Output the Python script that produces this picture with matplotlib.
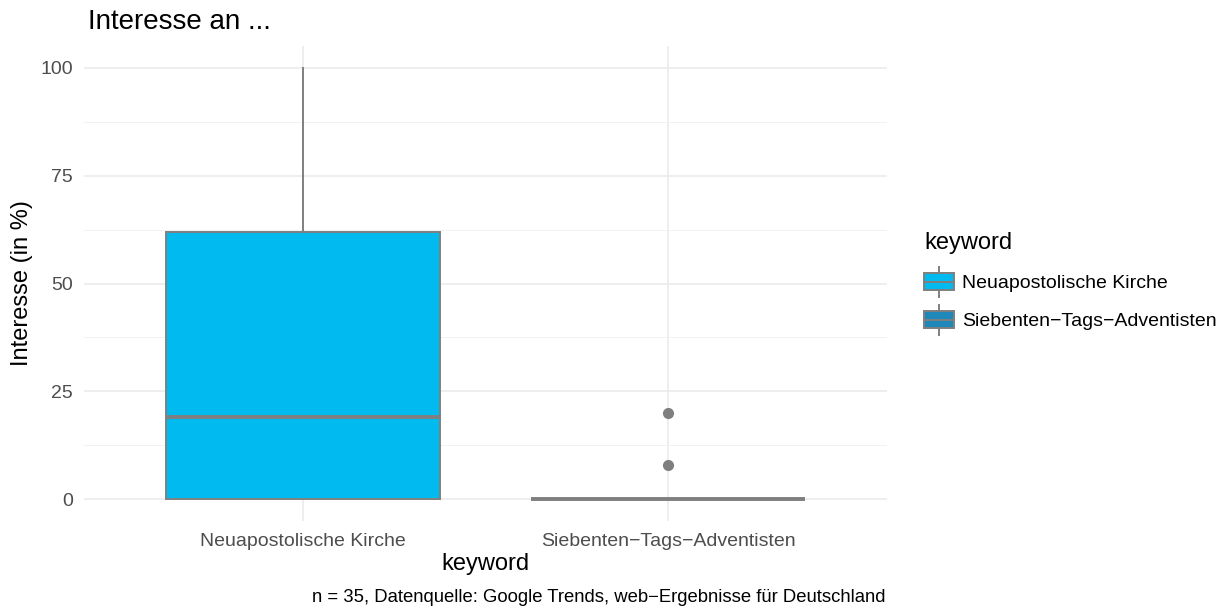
import matplotlib
matplotlib.use("Agg")
import matplotlib.pyplot as plt
from matplotlib.legend_handler import HandlerBase
from matplotlib.patches import Rectangle
from matplotlib.lines import Line2D

plt.rcParams['font.family'] = ['Liberation Sans', 'DejaVu Sans']

# Data (box statistics)
categories = ["Neuapostolische Kirche", "Siebenten\u2212Tags\u2212Adventisten"]
whisker_low = [0, 0]
q1 = [0, 0]
median = [19, 0]
q3 = [62, 0]
whisker_high = [100, 0]
outliers = [[], [8, 20]]
fill_colors = ["#00BAF0", "#1F88BA"]
yticks = [0, 25, 50, 75, 100]

edge = "#7F7F7F"

fig = plt.figure(figsize=(12.32, 6.09), dpi=100)
W, H = 1232, 609
left, right, top, bottom = 84, 887, 46, 521
ax = fig.add_axes([left / W, 1 - bottom / H, (right - left) / W, (bottom - top) / H])

stats = []
for i, c in enumerate(categories):
    stats.append(dict(label=c, whislo=whisker_low[i], q1=q1[i], med=median[i],
                      q3=q3[i], whishi=whisker_high[i], fliers=outliers[i]))

positions = list(range(1, len(categories) + 1))
bp = ax.bxp(stats, positions=positions, widths=0.75, patch_artist=True, showcaps=False,
            boxprops=dict(edgecolor=edge, linewidth=1.4),
            medianprops=dict(color=edge, linewidth=2.8, solid_capstyle='butt'),
            whiskerprops=dict(color=edge, linewidth=1.4),
            flierprops=dict(marker='o', markerfacecolor=edge, markeredgecolor=edge, markersize=7),
            zorder=3)
for patch, col in zip(bp['boxes'], fill_colors):
    patch.set_facecolor(col)

ax.set_xlim(0.4, len(categories) + 0.6)
ax.set_ylim(-5, 105)
ax.set_yticks(yticks)
ax.set_yticks([12.5, 37.5, 62.5, 87.5], minor=True)
ax.set_xticks(positions)
ax.set_xticklabels(categories)
ax.grid(True, which='major', color='#EBEBEB', linewidth=1.2, zorder=0)
ax.grid(True, which='minor', axis='y', color='#F2F2F2', linewidth=0.7, zorder=0)
ax.set_axisbelow(True)
for s in ax.spines.values():
    s.set_visible(False)
ax.tick_params(which='both', length=0, labelsize=14, labelcolor='#4D4D4D')
ax.tick_params(axis='x', pad=9)
ax.tick_params(axis='y', pad=8)

ax.set_xlabel("keyword", fontsize=17, labelpad=2)
ax.set_ylabel("Interesse (in %)", fontsize=17, labelpad=5)
fig.text(88 / W, 1 - 22 / H, "Interesse an ...", fontsize=20, va='center', ha='left')
fig.text(886 / W, 1 - 597 / H,
         "n = 35, Datenquelle: Google Trends, web\u2212Ergebnisse f\u00fcr Deutschland",
         fontsize=13.3, va='center', ha='right')


class BoxHandler(HandlerBase):
    def create_artists(self, legend, orig_handle, xdescent, ydescent, width, height, fontsize, trans):
        col = orig_handle.get_facecolor()
        y0 = -ydescent
        cy = y0 + height / 2
        r = Rectangle((0, y0), width, height,
                      facecolor=col, edgecolor=edge, linewidth=1.4, transform=trans)
        m = Line2D([0, width], [cy, cy], color=edge, linewidth=1.4, transform=trans)
        w1 = Line2D([width / 2, width / 2], [y0 - height * 0.38, y0],
                    color=edge, linewidth=1.4, transform=trans)
        w2 = Line2D([width / 2, width / 2], [y0 + height, y0 + height * 1.38],
                    color=edge, linewidth=1.4, transform=trans)
        return [w1, w2, r, m]


handles = [Rectangle((0, 0), 1, 1, facecolor=c) for c in fill_colors]
leg = fig.legend(handles, categories, handler_map={Rectangle: BoxHandler()},
                 loc='upper left', bbox_to_anchor=(924 / W, 1 - 232 / H),
                 frameon=False, title="keyword", title_fontsize=17, fontsize=14,
                 handlelength=1.55, handleheight=0.97, handletextpad=0.4, labelspacing=0.98,
                 borderaxespad=0, borderpad=0)
leg._legend_box.align = "left"

fig.savefig("out.png", dpi=100)
